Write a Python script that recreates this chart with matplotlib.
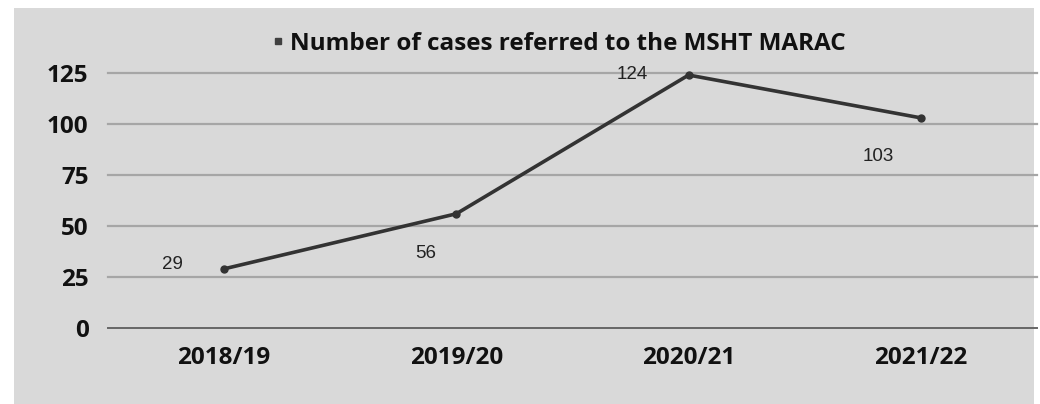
import matplotlib
matplotlib.use('Agg')
import matplotlib.pyplot as plt
from matplotlib.patches import Rectangle
from matplotlib.lines import Line2D

# data
years = ['2018/19', '2019/20', '2020/21', '2021/22']
cases = [29, 56, 124, 103]
y_ticks = [0, 25, 50, 75, 100, 125]
title = 'Number of cases referred to the MSHT MARAC'

# label offsets in pixels (excel puts them oddly)
label_offsets = [(-52, 4), (-31, -40), (-56, 1), (-43, -39)]

W, H = 1040, 404
fig = plt.figure(figsize=(W / 100, H / 100), dpi=100)
fig.patch.set_facecolor('white')

# gray chart area
fig.patches.append(Rectangle((14 / W, 0), (1034 - 14) / W, (404 - 8) / H,
                             transform=fig.transFigure, facecolor='#d9d9d9',
                             edgecolor='none', zorder=-10))

ax = fig.add_axes([108 / W, (H - 328) / H, (1037 - 108) / W, (328 - 73) / H])
ax.set_facecolor('none')

x = list(range(len(years)))
ax.plot(x, cases, color='#333333', linewidth=2.6, marker='o', markersize=5,
        solid_capstyle='round', zorder=3, clip_on=False)

for xi, v, off in zip(x, cases, label_offsets):
    ax.annotate(str(v), (xi, v), xytext=off, textcoords='offset pixels',
                ha='center', va='center', fontsize=13.5, color='#222222',
                family='Liberation Sans')

ax.set_xlim(-0.5, len(years) - 0.5)
ax.set_ylim(0, 125)
ax.set_yticks(y_ticks)
ax.set_xticks(x)
ax.set_xticklabels(years)
for lab in ax.get_yticklabels() + ax.get_xticklabels():
    lab.set_family('Open Sans')
    lab.set_fontweight('bold')
    lab.set_fontsize(17.5)
    lab.set_color('#111111')

ax.tick_params(axis='both', length=0)
ax.tick_params(axis='y', pad=14)
ax.tick_params(axis='x', pad=13)

for y in y_ticks[1:]:
    ax.axhline(y, color='#a6a6a6', linewidth=1.6, zorder=1, clip_on=False)
ax.axhline(0, color='#666666', linewidth=1.4, zorder=1, clip_on=False)

for s in ax.spines.values():
    s.set_visible(False)

# legend styled like a title
handle = Line2D([], [], linestyle='none', marker='s', markersize=5,
                color='#404040')
leg = fig.legend([handle], [title], loc='center', bbox_to_anchor=(558 / W, (H - 44) / H),
                 frameon=False, handletextpad=0.2, handlelength=0.6,
                 prop={'family': 'Open Sans', 'weight': 'bold', 'size': 17.5})
for t in leg.get_texts():
    t.set_color('#111111')

fig.savefig('out.png', dpi=100)
